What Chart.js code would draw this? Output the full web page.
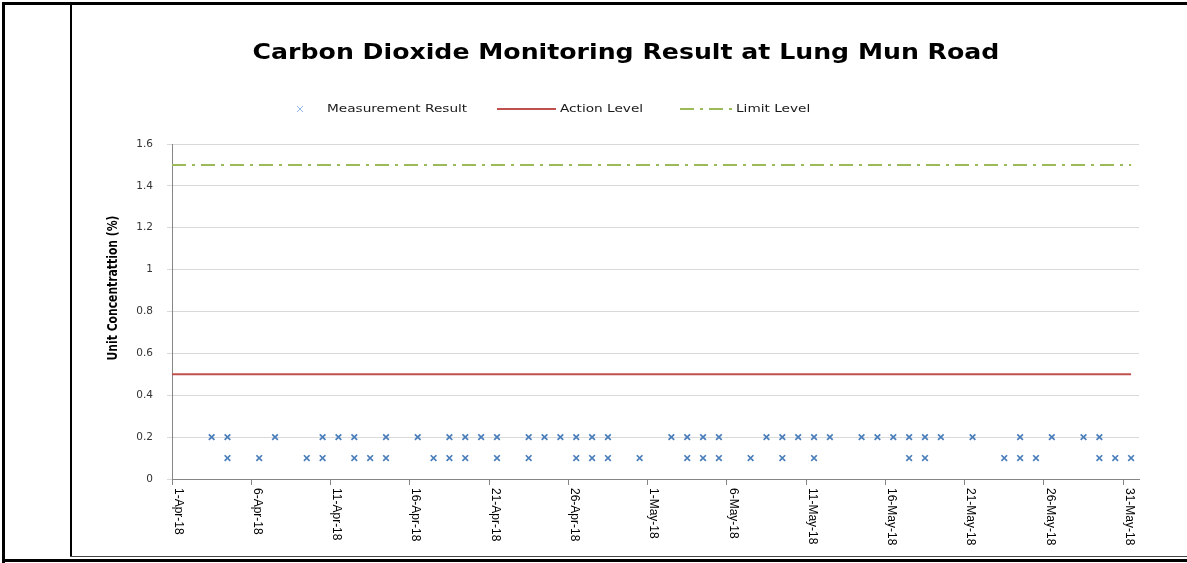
<!DOCTYPE html>
<html lang="en">
<head>
<meta charset="utf-8" />
<title>Carbon Dioxide Monitoring Result at Lung Mun Road</title>
<script src="https://cdn.jsdelivr.net/npm/chart.js"></script>
<style>
  html, body { margin: 0; padding: 0; background: #fff; }
  body { width: 1187px; height: 563px; position: relative; overflow: hidden; }
  .rule { position: absolute; background: #000; }
  #chart-box { position: absolute; left: 73px; top: 5px; width: 1112px; height: 550px; }
</style>
</head>
<body>
<!-- table cell borders around the chart -->
<div class="rule" style="left:2px;top:2px;width:1185px;height:3px"></div>
<div class="rule" style="left:2px;top:2px;width:3px;height:561px"></div>
<div class="rule" style="left:70px;top:4px;width:2px;height:553px"></div>
<div class="rule" style="left:70px;top:556px;width:1117px;height:1px;background:#444"></div>
<div class="rule" style="left:2px;top:559px;width:1185px;height:3px"></div>

<div id="chart-box"><canvas id="co2Chart"></canvas></div>

<script>
const chartTitle = "Carbon Dioxide Monitoring Result at Lung Mun Road";
const yTitle = "Unit Concentrattion (%)";
const periodDays = 61; // 1-Apr-18 .. 31-May-18
const tickLabels = ["1-Apr-18", "6-Apr-18", "11-Apr-18", "16-Apr-18", "21-Apr-18", "26-Apr-18",
  "1-May-18", "6-May-18", "11-May-18", "16-May-18", "21-May-18", "26-May-18", "31-May-18"];
const yTicks = [0, 0.2, 0.4, 0.6, 0.8, 1, 1.2, 1.4, 1.6];

// measurement results (some days have two readings)
const measureDates = [
  "3-Apr-18", "4-Apr-18", "4-Apr-18", "6-Apr-18", "7-Apr-18", "9-Apr-18", "10-Apr-18", "10-Apr-18",
  "11-Apr-18", "12-Apr-18", "12-Apr-18", "13-Apr-18", "14-Apr-18", "14-Apr-18", "16-Apr-18", "17-Apr-18",
  "18-Apr-18", "18-Apr-18", "19-Apr-18", "19-Apr-18", "20-Apr-18", "21-Apr-18", "21-Apr-18", "23-Apr-18",
  "23-Apr-18", "24-Apr-18", "25-Apr-18", "26-Apr-18", "26-Apr-18", "27-Apr-18", "27-Apr-18", "28-Apr-18",
  "28-Apr-18", "30-Apr-18", "2-May-18", "3-May-18", "3-May-18", "4-May-18", "4-May-18", "5-May-18",
  "5-May-18", "7-May-18", "8-May-18", "9-May-18", "9-May-18", "10-May-18", "11-May-18", "11-May-18",
  "12-May-18", "14-May-18", "15-May-18", "16-May-18", "17-May-18", "17-May-18", "18-May-18", "18-May-18",
  "19-May-18", "21-May-18", "23-May-18", "24-May-18", "24-May-18", "25-May-18", "26-May-18", "28-May-18",
  "29-May-18", "29-May-18", "30-May-18", "31-May-18"];
const measureValues = [
  0.2, 0.2, 0.1, 0.1, 0.2, 0.1, 0.2, 0.1,
  0.2, 0.2, 0.1, 0.1, 0.2, 0.1, 0.2, 0.1,
  0.2, 0.1, 0.2, 0.1, 0.2, 0.2, 0.1, 0.2,
  0.1, 0.2, 0.2, 0.2, 0.1, 0.2, 0.1, 0.2,
  0.1, 0.1, 0.2, 0.2, 0.1, 0.2, 0.1, 0.2,
  0.1, 0.1, 0.2, 0.2, 0.1, 0.2, 0.2, 0.1,
  0.2, 0.2, 0.2, 0.2, 0.2, 0.1, 0.2, 0.1,
  0.2, 0.2, 0.1, 0.2, 0.1, 0.1, 0.2, 0.2,
  0.2, 0.1, 0.1, 0.1];
const actionLevel = 0.5;
const limitLevel = 1.5;

// day number counted from 1-Apr-18
function dayIndex(label) {
  const parts = label.split("-");
  const d = parseInt(parts[0]);
  return parts[1] === "Apr" ? d - 1 : 29 + d;
}

// draws the heading, the legend, the axis title and the downward reading date labels
const decorPlugin = {
  id: "decor",
  afterDraw(chart) {
    const ctx = chart.ctx;

    ctx.save();
    ctx.fillStyle = "#000";
    ctx.font = 'bold 21px "DejaVu Sans"';
    ctx.textAlign = "center";
    ctx.textBaseline = "middle";
    ctx.translate(553, 49);
    ctx.scale(1.2, 1);
    ctx.fillText(chartTitle, 0, 0);
    ctx.restore();

    // legend
    const ly = 104;
    ctx.save();
    ctx.strokeStyle = "#8eb4e3";
    ctx.lineWidth = 1;
    ctx.beginPath();
    ctx.moveTo(224, ly - 3); ctx.lineTo(230, ly + 3);
    ctx.moveTo(230, ly - 3); ctx.lineTo(224, ly + 3);
    ctx.stroke();
    ctx.strokeStyle = "#c0504d";
    ctx.lineWidth = 2;
    ctx.beginPath(); ctx.moveTo(424, ly); ctx.lineTo(483, ly); ctx.stroke();
    ctx.strokeStyle = "#9bbb59";
    ctx.setLineDash([14, 6, 3, 6]);
    ctx.beginPath(); ctx.moveTo(607, ly); ctx.lineTo(661, ly); ctx.stroke();
    ctx.restore();

    const legendText = [["Measurement Result", 254], ["Action Level", 487], ["Limit Level", 663]];
    legendText.forEach(([t, x]) => {
      ctx.save();
      ctx.fillStyle = "#1a1a1a";
      ctx.font = '10.5px "DejaVu Sans"';
      ctx.textAlign = "left";
      ctx.textBaseline = "middle";
      ctx.translate(x, ly);
      ctx.scale(1.3, 1);
      ctx.fillText(t, 0, 0);
      ctx.restore();
    });

    // y axis title
    ctx.save();
    ctx.fillStyle = "#000";
    ctx.font = 'bold 12px "Liberation Sans Narrow", "DejaVu Sans Condensed"';
    ctx.textAlign = "center";
    ctx.textBaseline = "middle";
    ctx.translate(40, 283);
    ctx.rotate(-Math.PI / 2);
    ctx.scale(1, 1.15);
    ctx.fillText(yTitle, 0, 0);
    ctx.restore();

    // x labels, rotated clockwise
    const xs = chart.scales.x;
    tickLabels.forEach((label) => {
      const px = xs.getPixelForValue(dayIndex(label));
      ctx.save();
      ctx.fillStyle = "#000";
      ctx.font = '12px "Liberation Sans"';
      ctx.translate(px + 6, xs.top + 9);
      ctx.rotate(Math.PI / 2);
      ctx.textAlign = "left";
      ctx.textBaseline = "middle";
      ctx.fillText(label, 0, 0);
      ctx.restore();
    });
  },
};

const points = measureDates.map((d, i) => ({ x: dayIndex(d) + 0.5, y: measureValues[i] }));
const lastX = periodDays - 0.5;

new Chart(document.getElementById("co2Chart"), {
  type: "line",
  data: {
    datasets: [
      {
        label: "Measurement Result",
        data: points,
        showLine: false,
        pointStyle: "crossRot",
        pointRadius: 4,
        pointBorderWidth: 1.7,
        borderColor: "#4a7ebb",
        backgroundColor: "#4a7ebb",
      },
      {
        label: "Action Level",
        data: [{ x: 0, y: actionLevel }, { x: lastX, y: actionLevel }],
        borderColor: "#c0504d",
        borderWidth: 2,
        pointRadius: 0,
      },
      {
        label: "Limit Level",
        data: [{ x: 0, y: limitLevel }, { x: lastX, y: limitLevel }],
        borderColor: "#9bbb59",
        borderWidth: 2,
        borderDash: [14, 6, 3, 6],
        pointRadius: 0,
      },
    ],
  },
  options: {
    responsive: true,
    maintainAspectRatio: false,
    animation: false,
    layout: { padding: { top: 139, right: 46, bottom: 0, left: 0 } },
    plugins: { legend: { display: false }, title: { display: false }, tooltip: { enabled: false } },
    scales: {
      x: {
        type: "linear",
        min: 0,
        max: periodDays,
        afterBuildTicks: (s) => { s.ticks = tickLabels.map((l) => ({ value: dayIndex(l) })); },
        afterFit: (s) => { s.height = 76; },
        ticks: { display: false },
        grid: { drawOnChartArea: false, tickLength: 6, color: "#868686" },
        border: { color: "#868686" },
      },
      y: {
        min: 0,
        max: 1.6,
        afterBuildTicks: (s) => { s.ticks = yTicks.map((v) => ({ value: v })); },
        afterFit: (s) => { s.width = 99; },
        ticks: {
          callback: (v) => String(+v.toFixed(1)),
          font: { family: "DejaVu Sans", size: 10.5 },
          color: "#333",
          padding: 14,
        },
        grid: { color: "#d9d9d9", tickLength: 5 },
        border: { color: "#868686" },
      },
    },
  },
  plugins: [decorPlugin],
});
</script>
</body>
</html>
